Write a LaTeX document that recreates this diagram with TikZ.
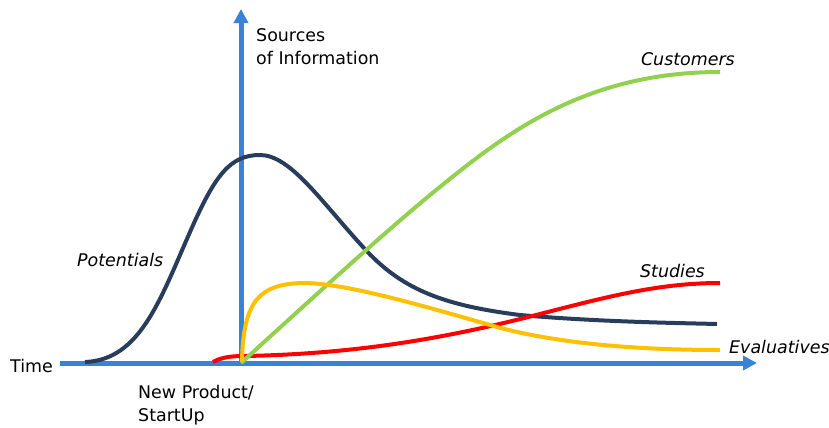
\documentclass[tikz,border=0pt]{standalone}
\usepackage{fontspec}
\setmainfont{DejaVu Sans}
\usetikzlibrary{arrows.meta}
\definecolor{axisblue}{RGB}{58,130,214}
\definecolor{potnavy}{RGB}{40,60,92}
\definecolor{custgreen}{RGB}{146,208,80}
\definecolor{evalyellow}{RGB}{255,192,0}
\definecolor{studred}{RGB}{255,0,0}

\begin{document}
\begin{tikzpicture}[x=1bp,y=-1bp,
  axis/.style={draw=axisblue, line width=5bp, -{Triangle[length=14bp,width=14bp]}},
  curve/.style={line width=4bp},
  lbl/.style={inner sep=0pt, font=\fontsize{17.5}{23.5}\selectfont},
  ilbl/.style={lbl, font=\fontsize{17.5}{23.5}\selectfont\itshape}]
 \path[use as bounding box] (0,0) rectangle (829,427);

\coordinate (tstart) at (60,363);
\coordinate (tend) at (757,363);
\coordinate (origin) at (241,365.5);
\coordinate (vend) at (241,9);

\draw[axis] (tstart) -- (tend);
\draw[axis] (origin) -- (vend);

\draw[curve, potnavy] (85,362) .. controls (140,360) and (160,300) .. (190,232)
  .. controls (215,175) and (230,155) .. (260,155)
  .. controls (290,155) and (320,200) .. (363,247)
  .. controls (400,288) and (440,305) .. (520,315)
  .. controls (600,322) and (680,323) .. (717,324);
\draw[curve, studred] (213,362) .. controls (222,357) and (232,356) .. (245,356)
  .. controls (350,354) and (440,340) .. (540,314)
  .. controls (610,296) and (660,283) .. (720,283);
\draw[curve, custgreen] (241,363) .. controls (305,305) and (370,245) .. (430,195)
  .. controls (500,138) and (580,72) .. (720,72);
\draw[curve, evalyellow] (242,362) .. controls (243,300) and (260,284) .. (303,283)
  .. controls (345,283) and (420,305) .. (497,327)
  .. controls (560,344) and (640,350) .. (720,350);

\node[lbl, anchor=base west] (time) at (10,372) {Time};
\node[lbl, anchor=north west, align=left] (newprod) at (138,385) {New Product/\\StartUp};
\node[lbl, anchor=north west, align=left] (sources) at (256,28) {Sources\\of Information};
\node[ilbl, anchor=base west] (potentials) at (77,266) {Potentials};
\node[ilbl, anchor=base east] (customers) at (735,65) {Customers};
\node[ilbl, anchor=base east] (studies) at (705,277) {Studies};
\node[ilbl, anchor=base west] (evaluatives) at (729,353) {Evaluatives};

\end{tikzpicture}
\end{document}
